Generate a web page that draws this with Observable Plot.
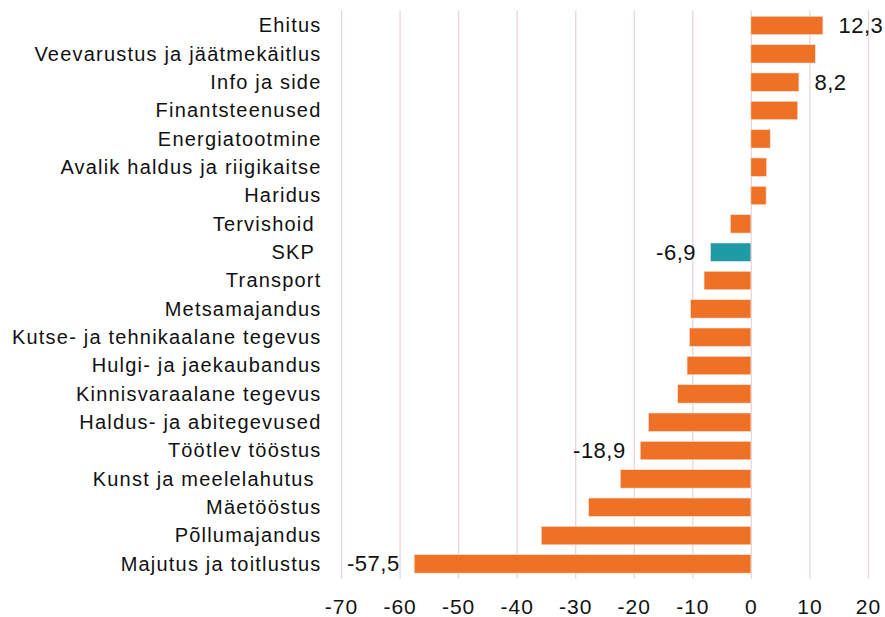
<!DOCTYPE html>
<html><head><meta charset="utf-8">
<script src="https://cdn.jsdelivr.net/npm/d3@7"></script>
<script src="https://cdn.jsdelivr.net/npm/@observablehq/plot@0.6"></script>
<style>body{margin:0;background:#fff}</style>
</head><body><div id="chart"></div>
<script>
const categories = [
  "Ehitus",
  "Veevarustus ja jäätmekäitlus",
  "Info ja side",
  "Finantsteenused",
  "Energiatootmine",
  "Avalik haldus ja riigikaitse",
  "Haridus",
  "Tervishoid ",
  "SKP ",
  "Transport",
  "Metsamajandus",
  "Kutse- ja tehnikaalane tegevus",
  "Hulgi- ja jaekaubandus",
  "Kinnisvaraalane tegevus",
  "Haldus- ja abitegevused",
  "Töötlev tööstus",
  "Kunst ja meelelahutus ",
  "Mäetööstus",
  "Põllumajandus",
  "Majutus ja toitlustus"
];
const values = [12.3, 11.0, 8.2, 8.0, 3.3, 2.7, 2.6, -3.5, -6.9, -8.0, -10.3, -10.5, -10.9, -12.5, -17.5, -18.9, -22.3, -27.7, -35.8, -57.5];
const highlightCategory = "SKP ";
const labelledCategories = ["Ehitus", "Info ja side", "SKP ", "Töötlev tööstus", "Majutus ja toitlustus"];
const xTicks = [-70, -60, -50, -40, -30, -20, -10, 0, 10, 20];

const orange = "#ee7125";
const teal = "#1f9ba6";
const data = categories.map((c, i) => ({category: c, value: values[i]}));
const fmt = v => v.toFixed(1).replace(".", ",");
const labelled = data.filter(d => labelledCategories.includes(d.category));

const chart = Plot.plot({
  width: 885,
  height: 617,
  marginLeft: 341,
  marginRight: 17,
  marginTop: 10.6,
  marginBottom: 38.2,
  style: {fontFamily: "'Liberation Sans', Arial, sans-serif", background: "white", color: "#111"},
  x: {domain: [-70, 20], label: null},
  y: {domain: categories, paddingInner: 0.35, paddingOuter: 0.2, round: false, label: null},
  marks: [
    Plot.gridX(xTicks, {stroke: "#ead5d8", strokeOpacity: 1, strokeWidth: 1.3}),
    Plot.barX(data, {x: "value", y: "category", fill: d => d.category === highlightCategory ? teal : orange, stroke: "#fbe3d6", strokeWidth: 0.6}),
    Plot.text(labelled.filter(d => d.value >= 0), {x: "value", y: "category", text: d => fmt(d.value), textAnchor: "start", dx: 15, fontSize: 22, fill: "#111"}),
    Plot.text(labelled.filter(d => d.value < 0), {x: "value", y: "category", text: d => fmt(d.value), textAnchor: "end", dx: -15, fontSize: 22, fill: "#111"}),
    Plot.axisX({ticks: xTicks, tickFormat: d => String(d), tickSize: 0, tickPadding: 20, fontSize: 21, label: null}),
    Plot.axisY({tickSize: 0, tickPadding: 20, fontSize: 20, label: null})
  ]
});
chart.querySelectorAll('g[aria-label="y-axis tick label"] text').forEach(t => t.setAttribute("letter-spacing", "1.2px"));
chart.querySelectorAll('g[aria-label="x-axis tick label"] text').forEach(t => t.setAttribute("letter-spacing", "1px"));
chart.querySelectorAll('g[aria-label="text"] text').forEach(t => t.setAttribute("letter-spacing", "0.5px"));
document.getElementById("chart").appendChild(chart);
</script>
</body></html>
